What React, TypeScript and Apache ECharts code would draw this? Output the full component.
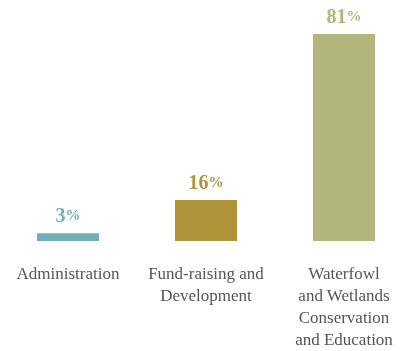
import React, { useEffect, useRef } from "react";
import * as echarts from "echarts";

const categories = ["Administration", "Fund-raising and\nDevelopment", "Waterfowl\nand Wetlands\nConservation\nand Education"];
const values = [3, 16, 81];
const colors = ["#72AFB6", "#B0943A", "#B2B57C"];

export default function App() {
  const ref = useRef<HTMLDivElement>(null);
  useEffect(() => {
    if (!ref.current) return;
    const chart = echarts.init(ref.current, null, { renderer: "svg" });
    chart.setOption({
      animation: false,
      grid: { left: 0, right: 0, top: 34, bottom: 110, containLabel: false, outerBoundsMode: "none" },
      xAxis: {
        type: "category",
        data: categories,
        axisLine: { show: false },
        axisTick: { show: false },
        axisLabel: {
          interval: 0,
          margin: 21,
          color: "#555555",
          fontFamily: "Liberation Serif",
          fontSize: 17,
          lineHeight: 22,
          align: "center",
        },
      },
      yAxis: { type: "value", min: 0, max: 81, show: false, splitLine: { show: false } },
      series: [
        {
          type: "bar",
          barWidth: 62,
          data: values.map((v, i) => ({
            value: v,
            itemStyle: { color: colors[i] },
            label: { color: colors[i] },
          })),
          label: {
            show: true,
            position: "top",
            distance: 8,
            fontFamily: "Liberation Serif",
            formatter: (p: any) => `{n|${p.value}}{p|%}`,
            rich: {
              n: { fontSize: 20, fontWeight: "bold", fontFamily: "Liberation Serif" },
              p: { fontSize: 15, fontWeight: "bold", fontFamily: "Liberation Serif" },
            },
          },
        },
      ],
    });
    return () => chart.dispose();
  }, []);
  return <div ref={ref} style={{ width: 414, height: 351, position: "fixed", left: -1, top: 0 }} />;
}
